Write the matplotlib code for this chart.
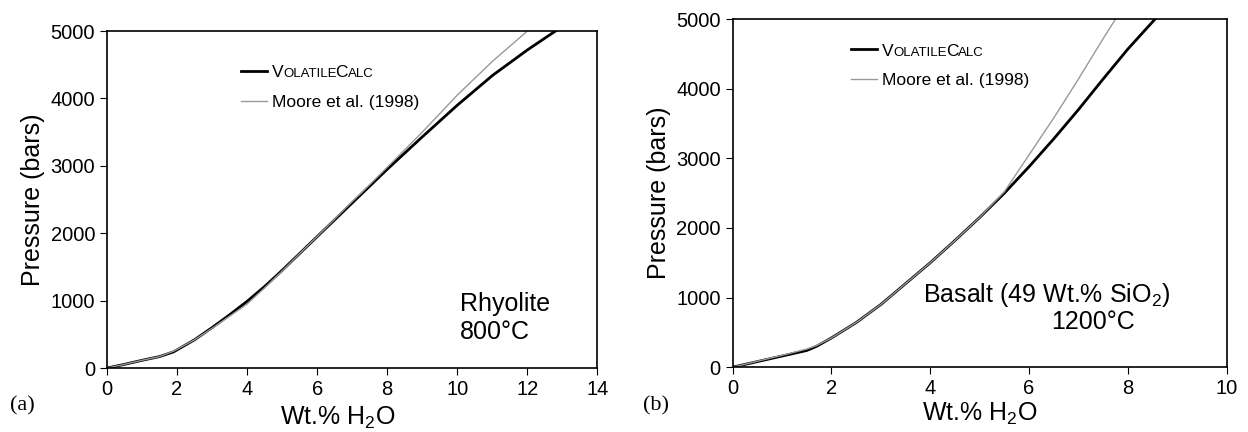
import matplotlib
matplotlib.use("Agg")
import matplotlib.pyplot as plt

plt.rcParams['font.family'] = ['Liberation Sans', 'DejaVu Sans']
plt.rcParams['mathtext.default'] = 'regular'

# (a) rhyolite, 800 C
rhy_x_vc = [0, 0.5, 1, 1.5, 1.9, 2.5, 3, 3.5, 4, 4.5, 5, 5.5, 6, 6.5, 7, 7.5, 8, 9, 10, 11, 12, 12.8]
rhy_p_vc = [0, 55, 115, 170, 240, 420, 600, 790, 990, 1210, 1450, 1700, 1950, 2200, 2450, 2700, 2950, 3430, 3900, 4340, 4720, 5000]
rhy_x_moore = [0, 0.5, 1, 1.5, 1.9, 2.5, 3, 3.5, 4, 4.5, 5, 5.5, 6, 6.5, 7, 7.5, 8, 9, 10, 11, 12]
rhy_p_moore = [0, 55, 115, 170, 250, 420, 590, 770, 950, 1190, 1440, 1700, 1950, 2210, 2470, 2720, 2980, 3500, 4050, 4550, 5000]

# (b) basalt, 1200 C
bas_x_vc = [0, 0.5, 1, 1.5, 1.7, 2, 2.5, 3, 3.5, 4, 4.5, 5, 5.5, 6, 6.5, 7, 7.5, 8, 8.55]
bas_p_vc = [0, 80, 160, 240, 300, 420, 640, 900, 1200, 1500, 1820, 2150, 2500, 2880, 3280, 3700, 4140, 4570, 5000]
bas_x_moore = [0, 0.5, 1, 1.5, 1.7, 2, 2.5, 3, 3.5, 4, 4.5, 5, 5.5, 6, 6.5, 7, 7.5, 7.75]
bas_p_moore = [0, 85, 170, 260, 310, 420, 640, 900, 1200, 1500, 1820, 2150, 2520, 3050, 3580, 4140, 4720, 5000]

fig = plt.figure(figsize=(12.48, 4.32), dpi=100)
ax1 = fig.add_axes([0.0857, 0.148, 0.393, 0.78])
ax2 = fig.add_axes([0.587, 0.150, 0.396, 0.806])


def style(ax, xmax):
    ax.set_xlim(0, xmax)
    ax.set_ylim(0, 5000)
    ax.set_xticks(range(0, xmax + 1, 2))
    ax.set_yticks(range(0, 5001, 1000))
    ax.tick_params(direction='out', length=5, labelsize=14.5)
    ax.set_ylabel('Pressure (bars)', fontsize=18)
    ax.set_xlabel('Wt.% H$_2$O', fontsize=18, labelpad=2)
    for s in ax.spines.values():
        s.set_linewidth(1.2)


def make_legend(ax, anchor):
    leg = ax.legend(loc='upper left', bbox_to_anchor=anchor, frameon=False,
                    fontsize=12.5, handlelength=1.5, handletextpad=0.3,
                    borderpad=0, labelspacing=0.85)
    return leg


ax1.plot(rhy_x_vc, rhy_p_vc, color='black', lw=2.0, label='VOLATILECAL')
ax1.plot(rhy_x_moore, rhy_p_moore, color='#999999', lw=1.0, label='Moore et al. (1998)')
style(ax1, 14)
ax1.xaxis.set_label_coords(0.47, -0.108)
leg1 = make_legend(ax1, (0.255, 0.925))
ax1.text(0.72, 0.148, 'Rhyolite\n800°C', transform=ax1.transAxes, fontsize=18,
         va='center', ha='left', linespacing=1.2)

ax2.plot(bas_x_vc, bas_p_vc, color='black', lw=2.0, label='VOLATILECAL')
ax2.plot(bas_x_moore, bas_p_moore, color='#999999', lw=1.0, label='Moore et al. (1998)')
style(ax2, 10)
leg2 = make_legend(ax2, (0.222, 0.955))
ax2.text(0.385, 0.207, 'Basalt (49 Wt.% SiO$_2$)', transform=ax2.transAxes,
         fontsize=18, va='center', ha='left')
ax2.text(0.73, 0.13, '1200°C', transform=ax2.transAxes,
         fontsize=18, va='center', ha='center')

fig.text(0.008, 0.05, '(a)', fontsize=16, family='Liberation Serif')
fig.text(0.515, 0.05, '(b)', fontsize=16, family='Liberation Serif')

# small caps "VolatileCalc" in place of the first legend label
fig.canvas.draw()
for leg in (leg1, leg2):
    t0 = leg.get_texts()[0]
    t0.set_alpha(0)
    bb = t0.get_window_extent()
    x0, y0 = fig.transFigure.inverted().transform((bb.x0, bb.y0))
    a = fig.text(x0, y0, 'V', fontsize=12.5, va='bottom', ha='left')
    b = leg.axes.annotate('OLATILE', xy=(1, 0), xycoords=a, xytext=(0, 0),
                          textcoords='offset points', fontsize=9.5, va='bottom', ha='left')
    c = leg.axes.annotate('C', xy=(1, 0), xycoords=b, xytext=(-1.2, 0),
                          textcoords='offset points', fontsize=12.5, va='bottom', ha='left')
    leg.axes.annotate('ALC', xy=(1, 0), xycoords=c, xytext=(0, 0),
                      textcoords='offset points', fontsize=9.5, va='bottom', ha='left')

fig.savefig('out.png', dpi=100)
